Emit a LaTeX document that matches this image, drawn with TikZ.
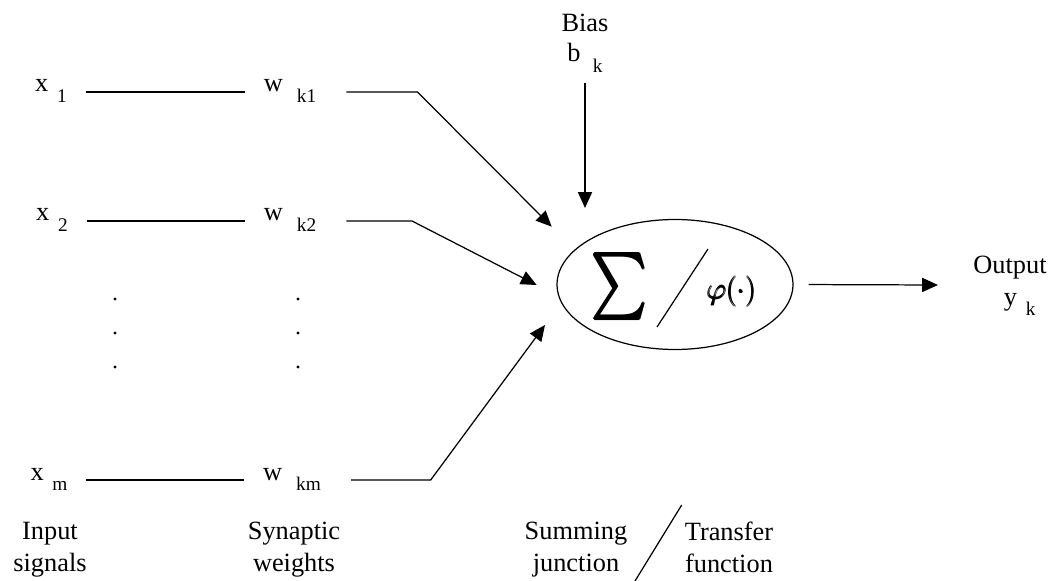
\documentclass[tikz,border=0pt]{standalone}
\usepackage{fontspec}
\setmainfont{Liberation Serif}
\usepackage{amsmath}
\usepackage{graphicx}
\usepackage{tikz}
\usetikzlibrary{arrows.meta,positioning,calc,shapes.geometric}

% lowered index written after a space, as in the figure
\newcommand{\lowsub}[2][5pt]{\hspace{#1}\raisebox{-6pt}{\fontsize{11}{12}\selectfont #2}}
% heavy summation sign (overprinted copies)
\newcommand{\heavysum}{\ooalign{$\sum$\cr\kern0.3pt$\sum$\cr\kern0.6pt$\sum$\cr
  \raisebox{0.3pt}{\kern0.3pt$\sum$}\cr\raisebox{-0.2pt}{\kern0.3pt$\sum$}\cr}}

\begin{document}
\begin{tikzpicture}[x=0.02cm, y=-0.02cm,
  font=\fontsize{15}{18}\selectfont,
  lbl/.style={anchor=base, inner xsep=10.5pt, inner ysep=0pt},
  caption/.style={anchor=north, inner sep=0pt, align=center},
  feed/.style={-{Triangle[length=9pt,width=8pt]}, line width=0.7pt}]
  \useasboundingbox (0,0) rectangle (1056,581);

  % input signals
  \node[lbl] (x1) at (51,92)  {x\lowsub{1}};
  \node[lbl] (x2) at (52,221) {x\lowsub{2}};
  \node[lbl] (xm) at (49,480) {x\lowsub{m}};

  % synaptic weights
  \node[lbl] (w1) at (290,92)  {w\lowsub[8pt]{k1}};
  \node[lbl] (w2) at (290,221) {w\lowsub[8pt]{k2}};
  \node[lbl] (wm) at (292,480) {w\lowsub[8pt]{km}};

  % inputs to weights
  \draw[line width=1.1pt] (x1.base east) -- (w1.base west);
  \draw[line width=1.1pt] (x2.base east) -- (w2.base west);
  \draw[line width=1.1pt] (xm.base east) -- (wm.base west);

  % vertical dots
  \foreach \xd in {115,298}
    \foreach \yd in {299,333,367}
      \fill (\xd,\yd) circle (0.95pt);

  % neuron
  \node[draw, ellipse, line width=0.7pt, minimum width=4.72cm,
        minimum height=2.6cm] (sum) at (675,284.5) {};
  \node (sigma) at (619,287) {\resizebox*{1.16cm}{1.34cm}{\heavysum}};
  \node (phi) at (732,291) {\fontsize{17.5}{20}\selectfont$\pmb{\varphi(\cdot)}$};
  \draw[line width=0.7pt] (708,249) -- (657,327);

  % bias and output
  \node[caption, font=\fontsize{15}{17}\selectfont] (bias) at (585,14)
    {Bias\\b\lowsub[7pt]{k}};
  \node[caption] (out) at (1010,256) {Output\\\hspace*{11pt}y\lowsub{k}};

  % arrow ends near the neuron
  \coordinate (in1) at (551.7,226.7);
  \coordinate (in2) at (536.7,285);
  \coordinate (inm) at (545,325);
  \coordinate (inb) at (585,208);
  \coordinate (yout) at (938,285);

  \draw[feed, shorten <=6.5pt] (w1.base east) -- ++(82.5,0) -- (in1);
  \draw[feed, shorten <=6.5pt] (w2.base east) -- ++(77,0) -- (in2);
  \draw[feed, shorten <=6.5pt] (wm.base east) -- ++(91,0) -- (inm);
  \draw[feed, shorten <=6pt] (bias.south) -- (inb);
  \draw[feed, shorten <=8.5pt] (sum.east) -- (yout);

  % captions
  \node[caption] (insig) at (50,522)  {Input\\signals};
  \node[caption] (syn)   at (294,522) {Synaptic\\weights};
  \node[caption] (sumj)  at (576,522) {Summing\\junction};
  \node[caption] (trf)   at (729,522) {Transfer\\function};
  \draw[line width=0.7pt] (681.7,505) -- (635,581);
\end{tikzpicture}
\end{document}
